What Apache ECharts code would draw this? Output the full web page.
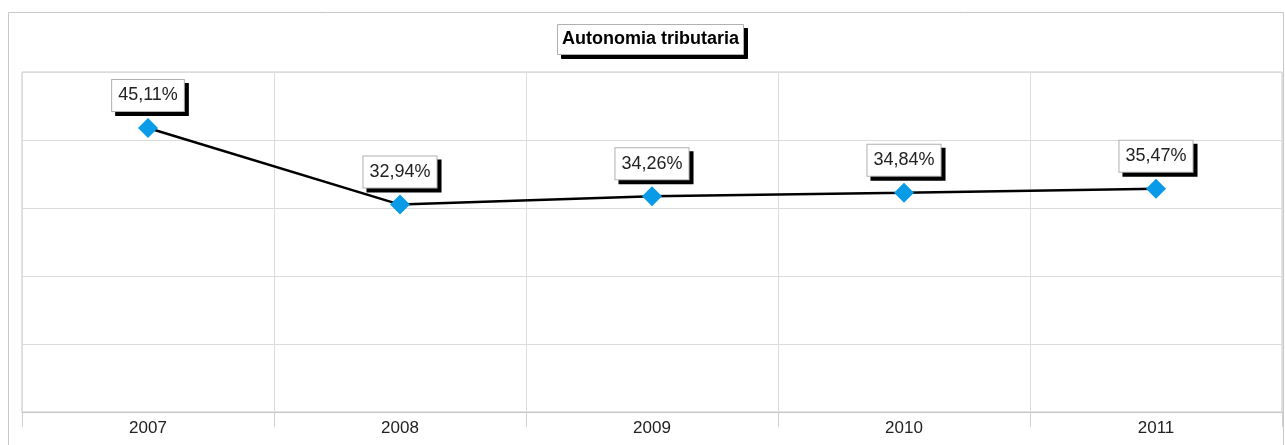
<!DOCTYPE html>
<html>
<head>
<meta charset="utf-8">
<script src="https://cdn.jsdelivr.net/npm/echarts@6/dist/echarts.min.js"></script>
<style>
  html, body { margin: 0; padding: 0; background: #fff; }
  #main { width: 1285px; height: 445px; }
</style>
</head>
<body>
<div id="main"></div>
<script>
  // dati del grafico
  var anni = ['2007', '2008', '2009', '2010', '2011'];
  var autonomia = [45.11, 32.94, 34.26, 34.84, 35.47];

  var font = '"Liberation Sans", Arial, sans-serif';

  function fmt (p) {
    return p.value.toFixed(2).replace('.', ',') + '%';
  }

  // etichetta comune (box bianco) e ombra nera spostata di 4px
  var labelBase = {
    show: true,
    position: 'top',
    distance: 7,
    formatter: fmt,
    fontFamily: font,
    fontSize: 18,
    lineHeight: 19,
    padding: [6, 6]
  };

  var titleBase = {
    text: 'Autonomia tributaria',
    padding: [6, 5],
    borderWidth: 1,
    textStyle: { fontFamily: font, fontSize: 18, fontWeight: 'bold', color: '#000', lineHeight: 19 }
  };

  var chart = echarts.init(document.getElementById('main'));
  chart.setOption({
    animation: false,
    title: [
      Object.assign({}, titleBase, { left: 561, top: 28, z: 1, backgroundColor: '#000', borderColor: '#000' }),
      Object.assign({}, titleBase, { left: 557, top: 24, z: 2, backgroundColor: '#fff', borderColor: '#b0b0b0' })
    ],
    graphic: [{
      type: 'rect',
      shape: { x: 8.5, y: 12.5, width: 1275, height: 500 },
      style: { fill: 'none', stroke: '#c8c8c8', lineWidth: 1 },
      silent: true,
      z: -1
    }],
    grid: {
      left: 22, right: 3, top: 72, bottom: 33,
      show: true,
      borderColor: '#c8c8c8',
      borderWidth: 1
    },
    xAxis: {
      type: 'category',
      data: anni,
      boundaryGap: true,
      axisLine: { lineStyle: { color: '#c8c8c8', width: 1 } },
      axisTick: { show: true, length: 15, lineStyle: { color: '#d0d0d0' } },
      axisLabel: { fontFamily: font, fontSize: 17, color: '#222', margin: 8 },
      splitLine: { show: true, lineStyle: { color: '#dcdcdc' } }
    },
    yAxis: {
      type: 'value',
      min: 0,
      max: 54,
      interval: 10.8,
      axisLine: { show: false },
      axisTick: { show: false },
      axisLabel: { show: false },
      splitLine: { show: true, lineStyle: { color: '#dcdcdc' } }
    },
    series: [
      {
        // solo ombre delle etichette
        type: 'line',
        data: autonomia,
        symbol: 'diamond',
        symbolSize: 20,
        itemStyle: { color: 'rgba(0,0,0,0)', borderWidth: 0 },
        lineStyle: { width: 0, color: 'rgba(0,0,0,0)' },
        z: 2,
        silent: true,
        label: Object.assign({}, labelBase, {
          color: '#000',
          backgroundColor: '#000',
          borderColor: '#000',
          borderWidth: 1,
          offset: [4, 4]
        })
      },
      {
        type: 'line',
        data: autonomia,
        symbol: 'diamond',
        symbolSize: 20,
        itemStyle: { color: '#0a9be8' },
        lineStyle: { color: '#000', width: 2.5 },
        z: 3,
        label: Object.assign({}, labelBase, {
          color: '#222',
          backgroundColor: '#fff',
          borderColor: '#b0b0b0',
          borderWidth: 1
        })
      }
    ]
  });
</script>
</body>
</html>
